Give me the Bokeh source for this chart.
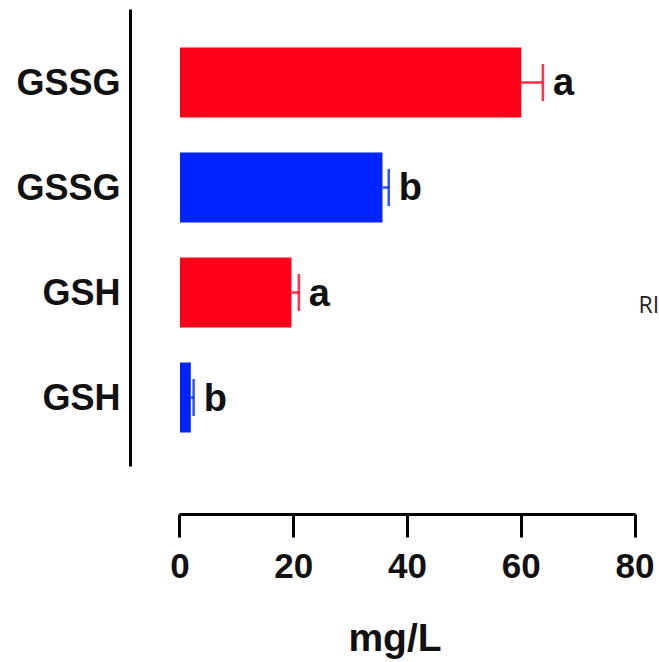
from bokeh.plotting import figure
from bokeh.models import ColumnDataSource, Range1d, FixedTicker, Whisker, TeeHead, Label
from bokeh.core.properties import value
from bokeh.embed import file_html
from bokeh.resources import INLINE

# ---- data (top to bottom) ----
labels = ["GSSG", "GSSG", "GSH", "GSH"]
ypos = [3, 2, 1, 0]
means = [60.0, 35.6, 19.6, 1.9]
errors = [3.8, 1.1, 1.3, 0.5]
letters = ["a", "b", "a", "b"]
colors = ["#FF0019", "#0024FF", "#FF0019", "#0024FF"]
x_ticks = [0, 20, 40, 60, 80]
x_label = "mg/L"

FONT = "Liberation Sans"

upper = [m + e for m, e in zip(means, errors)]
src = ColumnDataSource(dict(y=ypos, mean=means, err=errors, upper=upper,
                            letter=letters, color=colors, label=labels))

p = figure(width=659, height=662, output_backend="svg", toolbar_location=None,
           x_range=Range1d(-8.70, 84.3), y_range=Range1d(-1.114, 3.695),
           min_border_left=130, min_border_right=0, min_border_top=9,
           min_border_bottom=148)
p.outline_line_color = None
p.xgrid.grid_line_color = None
p.ygrid.grid_line_color = None
p.background_fill_color = "white"
p.border_fill_color = "white"

p.hbar(y="y", left=0, right="mean", height=0.667, fill_color="color",
       line_color=None, source=src)

for i in range(len(means)):
    s = ColumnDataSource(dict(y=[ypos[i]], lower=[means[i]], upper=[upper[i]]))
    w = Whisker(source=s, base="y", lower="lower", upper="upper", dimension="width",
                line_color=colors[i], line_width=2.5, line_alpha=0.8,
                lower_head=None,
                upper_head=TeeHead(size=37, line_color=colors[i], line_width=2.5, line_alpha=0.8))
    p.add_layout(w)

p.text(x="upper", y="y", text="letter", source=src, x_offset=10,
       text_align="left", text_baseline="middle",
       text_font=value(FONT), text_font_style="bold", text_font_size="38px",
       text_color="#111111")

p.add_layout(Label(x=80.6, y=0.895, text="RI", text_baseline="middle",
                   text_font="Open Sans", text_font_size="23px",
                   text_color="#222222"))

xa = p.xaxis[0]
xa.ticker = FixedTicker(ticks=x_ticks)
xa.bounds = (0, 80)
xa.axis_line_width = 3
xa.axis_line_color = "black"
xa.major_tick_line_width = 3
xa.major_tick_line_color = "black"
xa.major_tick_out = 23
xa.major_tick_in = 0
xa.minor_tick_line_color = None
xa.major_label_text_font = FONT
xa.major_label_text_font_style = "bold"
xa.major_label_text_font_size = "35px"
xa.major_label_text_color = "#111111"
xa.major_label_standoff = 16
xa.axis_label = x_label
xa.axis_label_text_font = FONT
xa.axis_label_text_font_style = "bold"
xa.axis_label_text_font_size = "39px"
xa.axis_label_text_color = "#111111"
xa.axis_label_standoff = 35

ya = p.yaxis[0]
ya.ticker = FixedTicker(ticks=ypos)
ya.major_label_overrides = {y: l for y, l in zip(ypos, labels)}
ya.bounds = (-0.657, 3.695)
ya.axis_line_width = 3
ya.axis_line_color = "black"
ya.major_tick_line_color = None
ya.major_tick_out = 0
ya.major_tick_in = 0
ya.minor_tick_line_color = None
ya.major_label_text_font = FONT
ya.major_label_text_font_style = "bold"
ya.major_label_text_font_size = "36px"
ya.major_label_text_color = "#111111"
ya.major_label_standoff = 10

open("out.html", "w").write(file_html(p, INLINE))
